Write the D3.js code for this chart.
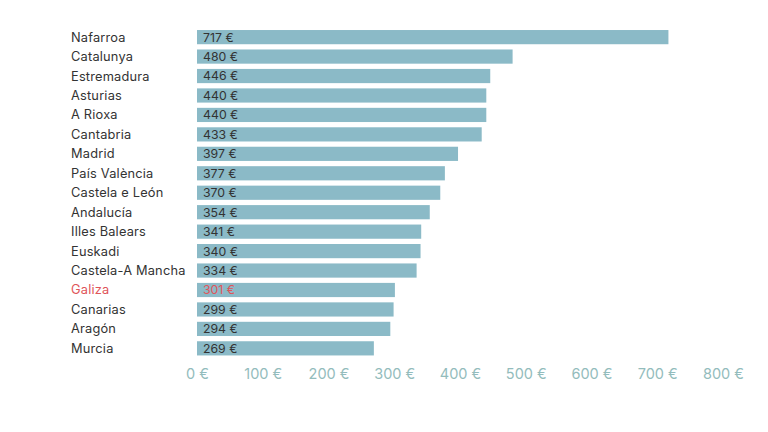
<!DOCTYPE html>
<html>
<head>
<meta charset="utf-8">
<script src="https://cdn.jsdelivr.net/npm/d3@7"></script>
<style>
  body { margin: 0; background: #fff; }
  svg { display: block; font-family: Inter, "Noto Sans", sans-serif; }
</style>
</head>
<body>
<div id="chart"></div>
<script>
// data
const regions = ['Nafarroa', 'Catalunya', 'Estremadura', 'Asturias', 'A Rioxa', 'Cantabria', 'Madrid',
  'País València', 'Castela e León', 'Andalucía', 'Illes Balears', 'Euskadi', 'Castela-A Mancha',
  'Galiza', 'Canarias', 'Aragón', 'Murcia'];
const values = [717, 480, 446, 440, 440, 433, 397, 377, 370, 354, 341, 340, 334, 301, 299, 294, 269];
const ticks = [0, 100, 200, 300, 400, 500, 600, 700, 800];
const highlight = 'Galiza';

const width = 768, height = 432;
const margins = { top: 28, right: 45, bottom: 60, left: 197 };

const $svg = d3.select('#chart').append('svg')
  .attr('width', width)
  .attr('height', height);

const xScale = d3.scaleLinear()
  .domain([0, 800])
  .range([margins.left, margins.left + 526]);

const yScale = d3.scaleBand()
  .domain(regions)
  .range([27.5, 27.5 + 19.44 * regions.length])
  .paddingInner(0.27)
  .paddingOuter(0.13);

const color = d => d === highlight ? '#e0555a' : '#333';

$svg.selectAll('.bar')
  .data(regions)
  .enter()
  .append('rect')
  .attr('x', xScale(0))
  .attr('y', d => yScale(d))
  .attr('width', (d, i) => xScale(values[i]) - xScale(0))
  .attr('height', yScale.bandwidth())
  .attr('fill', '#8bbac7');

$svg.selectAll('.region-label')
  .data(regions)
  .enter()
  .append('text')
  .attr('x', 71)
  .attr('y', d => yScale(d) + yScale.bandwidth() / 2)
  .attr('dy', '0.35em')
  .attr('font-size', 12.8)
  .attr('letter-spacing', 0.2)
  .attr('fill', color)
  .text(d => d);

$svg.selectAll('.value-label')
  .data(regions)
  .enter()
  .append('text')
  .attr('x', xScale(0) + 6)
  .attr('y', d => yScale(d) + yScale.bandwidth() / 2)
  .attr('dy', '0.36em')
  .attr('font-size', 12.3)
  .attr('fill', color)
  .text((d, i) => values[i] + ' €');

const xAxis = d3.axisBottom(xScale)
  .tickValues(ticks)
  .tickSize(0)
  .tickPadding(0)
  .tickFormat(d => d + ' €');

$svg.append('g')
  .attr('transform', 'translate(0, 369)')
  .call(xAxis)
  .call(g => g.select('.domain').remove())
  .call(g => g.selectAll('text')
    .attr('font-family', 'Inter, "Noto Sans", sans-serif')
    .attr('font-size', 14.5)
    .attr('fill', '#93bcbc'));
</script>
</body>
</html>
